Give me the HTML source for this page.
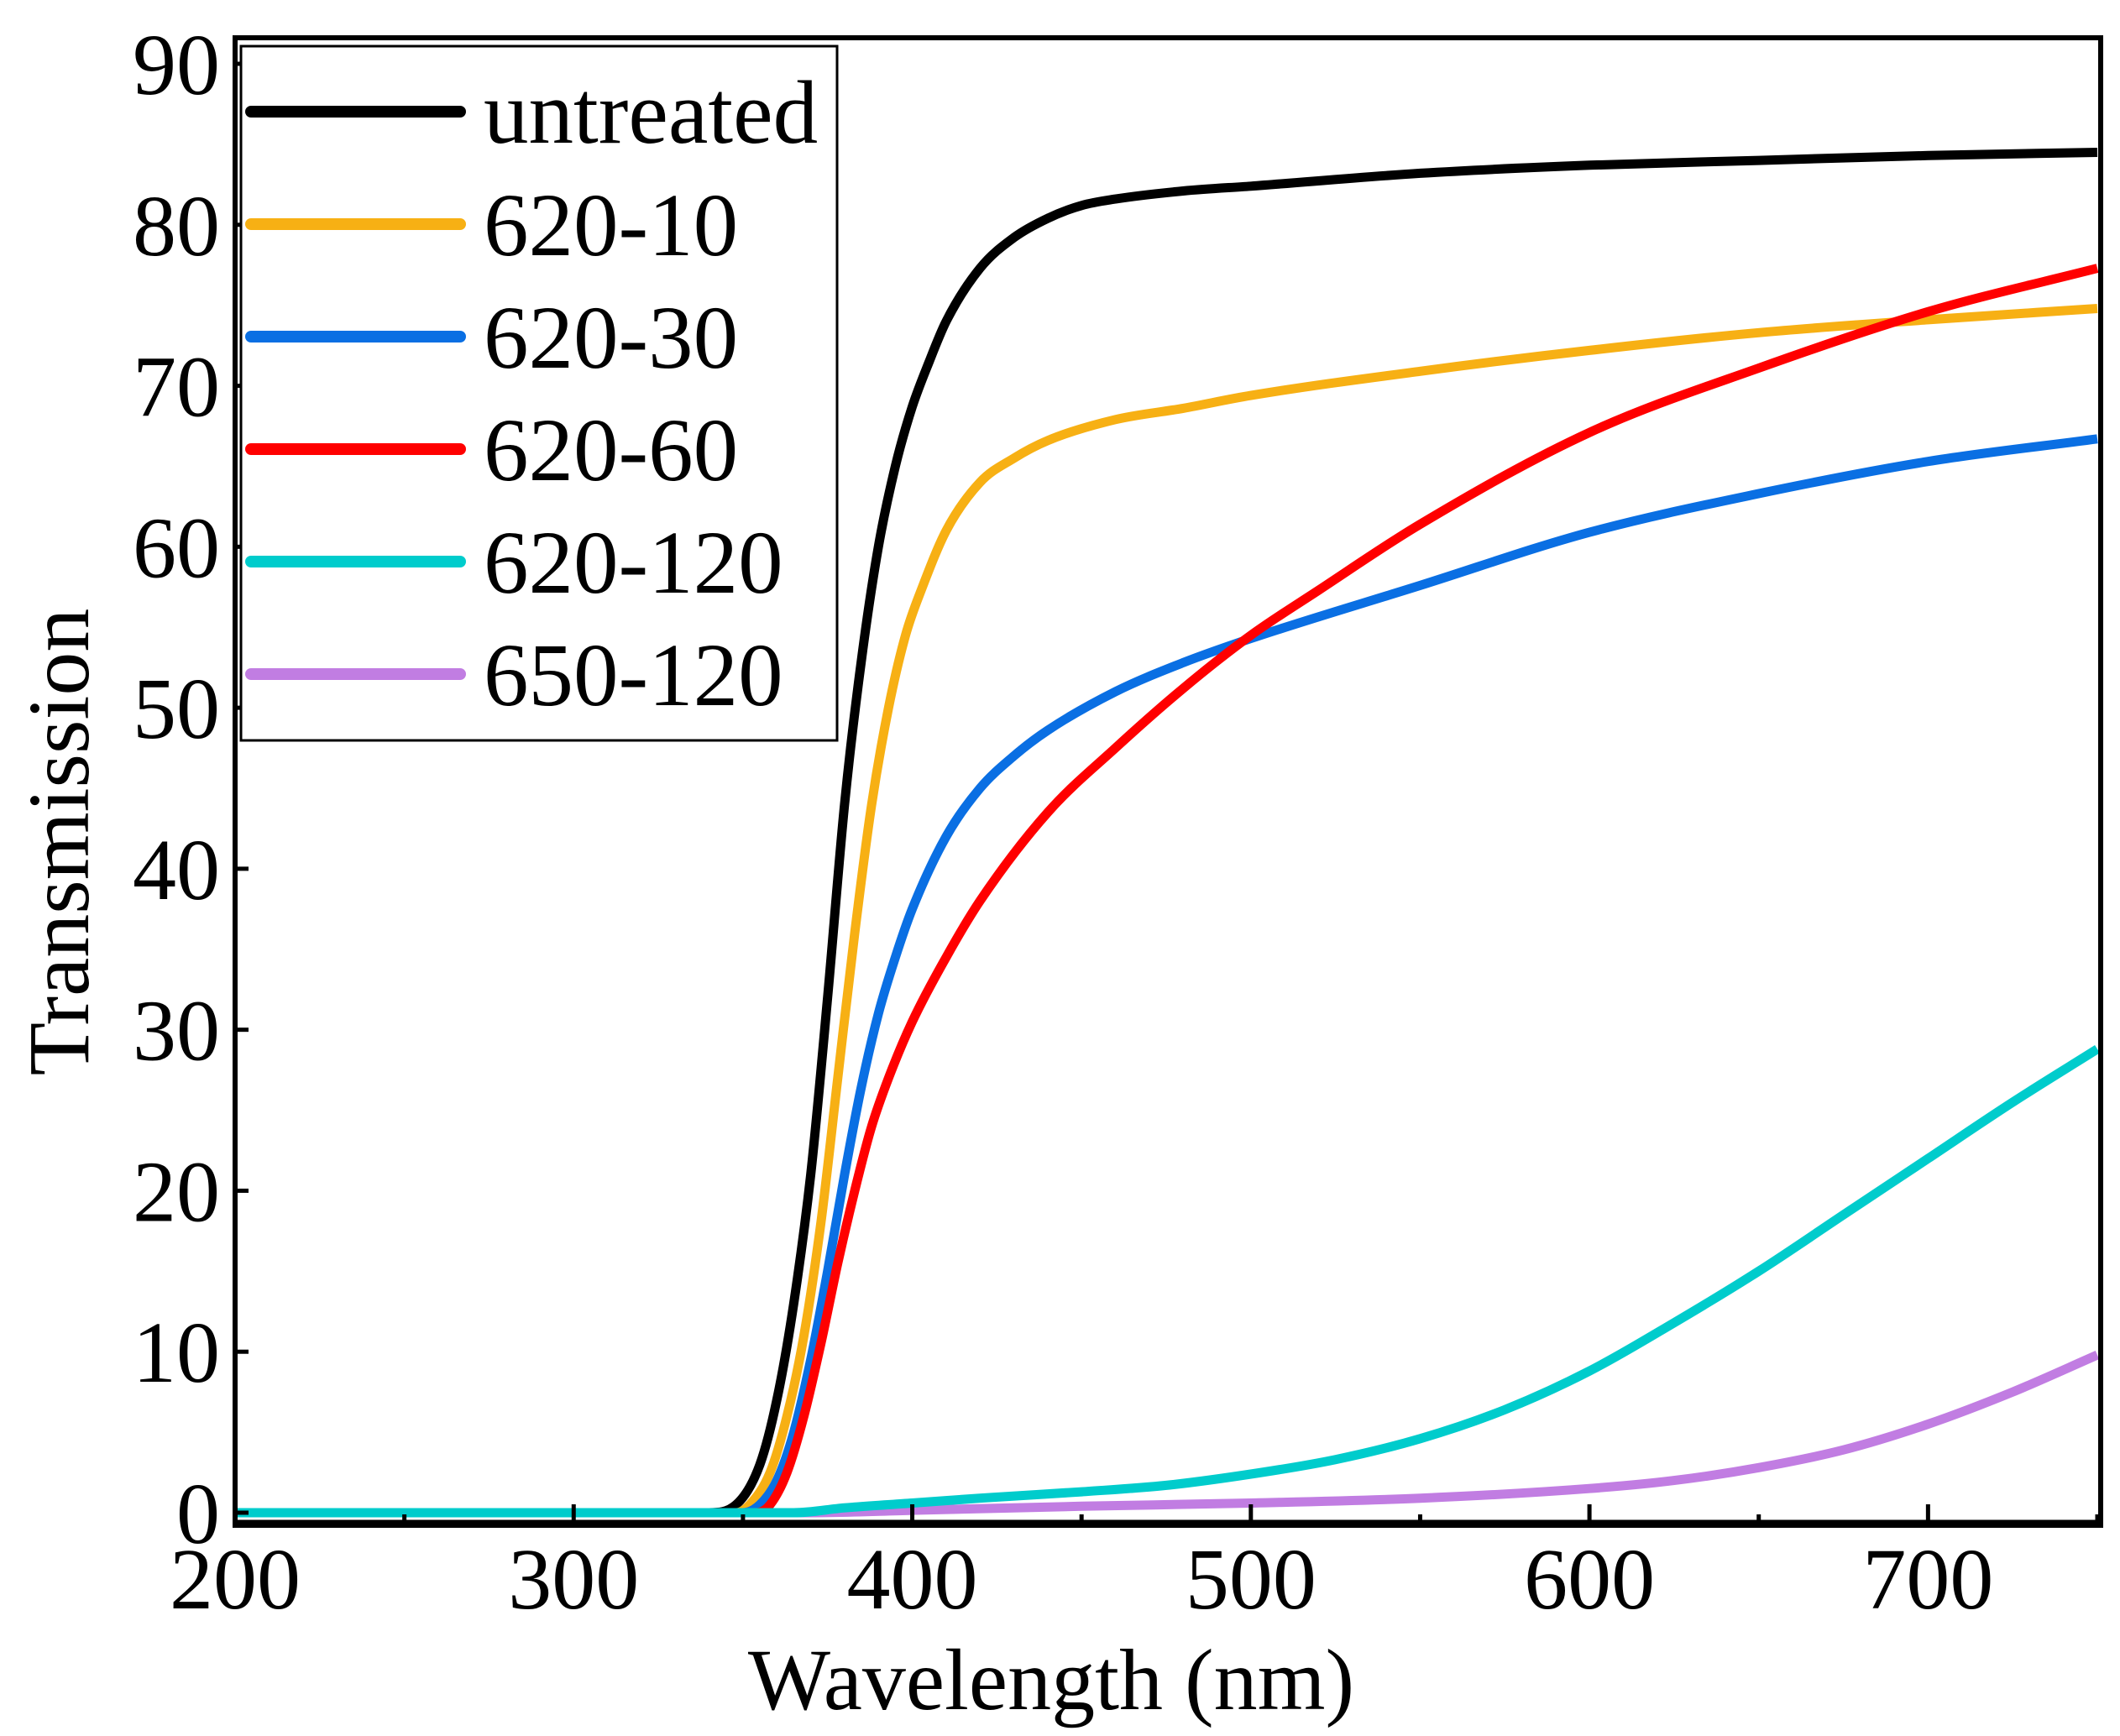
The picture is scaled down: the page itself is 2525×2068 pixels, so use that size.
<!DOCTYPE html>
<html><head><meta charset="utf-8"><style>
html,body{margin:0;padding:0;background:#fff;}
svg{display:block;}
text{font-family:"Liberation Serif",serif;fill:#000;}
</style></head>
<body>
<svg id="chart" width="2525" height="2068" viewBox="0 0 2525 2068" xmlns="http://www.w3.org/2000/svg">
<g id="series"></g>
<g id="axes"></g>
<g id="legend"></g>
<text x="1252" y="2036" font-size="104" text-anchor="middle">Wavelength (nm)</text>
<text x="0" y="0" font-size="104" text-anchor="middle" transform="translate(105,1003) rotate(-90)">Transmission</text>
</svg>
<script>
const seriesNames = ["untreated","620-10","620-30","620-60","620-120","650-120"];
const seriesColors = ["#000000","#f7b014","#0a6fe3","#ff0000","#00cccc","#c17de2"];
const xUntreated = [200,340,348,355,360,365,370,375,380,385,390,395,400,405,410,420,430,440,450,460,480,500,550,600,650,700,750];
const yUntreated = [0,0,0.5,3,7,13,21,32,44,53,60,65,68.7,71.5,74,77.3,79.2,80.4,81.2,81.6,82.1,82.4,83.2,83.7,84.0,84.3,84.5];
const x62010 = [200,348,352,358,363,368,373,378,383,388,393,398,403,410,420,430,440,460,480,500,550,600,650,700,750];
const y62010 = [0,0,0.5,2.5,6,11,18,27,36,44,50,54.5,57.5,61,64,65.5,66.6,67.9,68.6,69.4,70.9,72.2,73.3,74.1,74.8];
const x62030 = [200,350,355,360,365,370,375,380,385,390,395,400,410,420,430,440,460,480,500,550,600,650,700,750];
const y62030 = [0,0,0.5,2,5,9.5,15,21,26.5,31,34.5,37.5,42,45,47,48.6,51,52.8,54.3,57.6,60.9,63.3,65.3,66.7];
const x62060 = [200,354,358,363,368,373,378,383,388,393,400,410,420,440,460,480,500,520,550,600,650,700,750];
const y62060 = [0,0,0.5,2.5,6,10.5,15.5,20,24,27,30.5,34.5,38,43.5,47.5,51.2,54.5,57.3,61.4,67.1,71.1,74.6,77.3];
const x620120 = [200,365,380,400,420,450,475,500,525,550,575,600,625,650,675,700,725,750];
const y620120 = [0,0,0.3,0.6,0.9,1.3,1.7,2.4,3.3,4.6,6.4,8.8,11.8,15.0,18.5,22.0,25.5,28.8];
const x650120 = [200,370,400,450,500,550,600,625,650,675,700,725,750];
const y650120 = [0,0,0.15,0.4,0.6,0.9,1.5,2.0,2.8,3.9,5.5,7.5,9.8];
const xTicks = [200,300,400,500,600,700];
const yTicks = [0,10,20,30,40,50,60,70,80,90];

const X0=280, X1=2498, XMIN=200, XMAX=750;
const Y0=1802, Y90=76;
function sx(v){return X0+(v-XMIN)*(X1-X0)/(XMAX-XMIN);}
function sy(v){return Y0+(v)*(Y90-Y0)/90;}
const NS="http://www.w3.org/2000/svg";
function mk(tag,attrs,parent){const e=document.createElementNS(NS,tag);for(const k in attrs)e.setAttribute(k,attrs[k]);parent.appendChild(e);return e;}
function pathFrom(xs,ys){
  const n=xs.length, d=[], m=new Array(n).fill(0);
  for(let i=0;i<n-1;i++) d.push((ys[i+1]-ys[i])/(xs[i+1]-xs[i]));
  m[0]=d[0]; m[n-1]=d[n-2];
  for(let i=1;i<n-1;i++){ m[i]=(d[i-1]*d[i]<=0)?0:(d[i-1]+d[i])/2; }
  for(let i=0;i<n-1;i++){
    if(d[i]===0){m[i]=0;m[i+1]=0;continue;}
    const a=m[i]/d[i], b=m[i+1]/d[i], s=a*a+b*b;
    if(s>9){const t=3/Math.sqrt(s);m[i]=t*a*d[i];m[i+1]=t*b*d[i];}
  }
  let p="M"+sx(xs[0]).toFixed(1)+","+sy(ys[0]).toFixed(1);
  for(let i=0;i<n-1;i++){
    const h=(xs[i+1]-xs[i])/3;
    p+="C"+sx(xs[i]+h).toFixed(1)+","+sy(ys[i]+m[i]*h).toFixed(1)+" "+sx(xs[i+1]-h).toFixed(1)+","+sy(ys[i+1]-m[i+1]*h).toFixed(1)+" "+sx(xs[i+1]).toFixed(1)+","+sy(ys[i+1]).toFixed(1);
  }
  return p;
}
const sg=document.getElementById("series");
const allX=[xUntreated,x62010,x62030,x62060,x620120,x650120];
const allY=[yUntreated,y62010,y62030,y62060,y620120,y650120];
const order=[5,0,1,2,3,4];
order.forEach(i=>{
  const p=mk("path",{d:pathFrom(allX[i],allY[i]),fill:"none",stroke:seriesColors[i],"stroke-width":11,"stroke-linejoin":"round"},sg);
  
  
});
const ax=document.getElementById("axes");
const frame=mk("rect",{x:280,y:45,width:2222,height:1772,fill:"none",stroke:"#000","stroke-width":6},ax);


const bl=mk("line",{x1:277,y1:1815,x2:2505,y2:1815,stroke:"#000","stroke-width":9},ax);


xTicks.forEach(t=>{
  const l=mk("line",{x1:sx(t),y1:1815,x2:sx(t),y2:1792,stroke:"#000","stroke-width":5},ax);
  
  
  const m=mk("line",{x1:sx(t+50),y1:1815,x2:sx(t+50),y2:1804,stroke:"#000","stroke-width":5},ax);
  
  
  const tx=mk("text",{x:sx(t),y:1916,"font-size":104,"text-anchor":"middle"},ax);
  tx.textContent=t;
  
  
});
yTicks.forEach(t=>{
  const l=mk("line",{x1:280,y1:sy(t),x2:296,y2:sy(t),stroke:"#000","stroke-width":5},ax);
  
  
  const tx=mk("text",{x:262,y:sy(t)+36,"font-size":104,"text-anchor":"end"},ax);
  tx.textContent=t;
  
  
});
const lg=document.getElementById("legend");
const box=mk("rect",{x:287,y:55,width:710,height:827,fill:"#fff",stroke:"#000","stroke-width":3},lg);


seriesNames.forEach((n,i)=>{
  const y=133+i*134;
  const l=mk("line",{x1:299,y1:y,x2:548,y2:y,stroke:seriesColors[i],"stroke-width":14,"stroke-linecap":"round"},lg);
  
  
  const t=mk("text",{x:576,y:y+37,"font-size":107},lg);
  t.textContent=n;
  
  
});
</script>
</body></html>
